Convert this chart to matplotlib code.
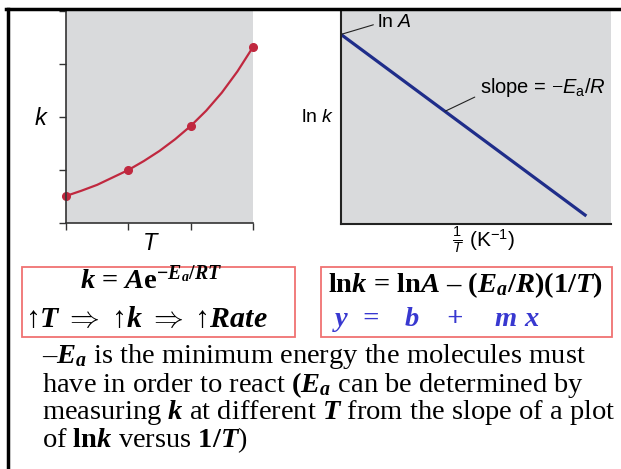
import numpy as np
import matplotlib
matplotlib.use('Agg')
import matplotlib.pyplot as plt
from matplotlib.patches import Rectangle
from matplotlib.lines import Line2D

# values
T_pts = [0, 1, 2, 3]
k_pts = [0.51, 1.0, 1.83, 3.32]
T_curve = [0, 0.25, 0.5, 0.75, 1.0, 1.25, 1.5, 1.75, 2.0, 2.25, 2.5, 2.75, 3.0]
k_curve = [0.51, 0.61, 0.72, 0.86, 1.0, 1.17, 1.36, 1.58, 1.83, 2.12, 2.46, 2.86, 3.32]
invT_line = [0.0, 0.904]
lnk_line = [0.89, 0.042]
x_ticks = [0, 1, 2, 3]
y_ticks = [0, 1, 2, 3, 4]

plt.rcParams['mathtext.fontset'] = 'custom'
plt.rcParams['mathtext.rm'] = 'Liberation Serif'
plt.rcParams['mathtext.it'] = 'Liberation Serif:italic'
plt.rcParams['mathtext.bf'] = 'Liberation Serif:bold'
plt.rcParams['mathtext.bfit'] = 'Liberation Serif:bold:italic'
plt.rcParams['mathtext.sf'] = 'Liberation Sans'
plt.rcParams['mathtext.cal'] = 'Liberation Sans:italic'

W, H = 621, 469


def fx(px):
    return px / W


def fy(py):
    return 1 - py / H


fig = plt.figure(figsize=(6.21, 4.69), dpi=100)
fig.patch.set_facecolor('white')

gray = '#d9dadc'
sans = ['Liberation Sans', 'DejaVu Sans']
serif = ['Liberation Serif', 'DejaVu Serif']

# left plot: k vs T
ax1 = fig.add_axes([fx(66), fy(223), fx(253) - fx(66), fy(11) - fy(223)])
ax1.set_facecolor(gray)
ax1.plot(T_curve, k_curve, color='#c0283f', lw=1.6, clip_on=False)
ax1.plot(T_pts, k_pts, 'o', color='#c0283f', ms=5.5, clip_on=False)
ax1.set_xlim(0, 3)
ax1.set_ylim(0, 4)
ax1.set_xticks(x_ticks)
ax1.set_yticks(y_ticks)
ax1.set_xticklabels([])
ax1.set_yticklabels([])
ax1.tick_params(direction='out', length=5, width=1, color='#333333')
for s in ['top', 'right']:
    ax1.spines[s].set_visible(False)
for s in ['left', 'bottom']:
    ax1.spines[s].set_color('#333333')
    ax1.spines[s].set_linewidth(1.2)
fig.text(fx(41), fy(118), r'$\mathcal{k}$', fontsize=17, ha='center', va='center')
fig.text(fx(151), fy(243), r'$\mathcal{T}$', fontsize=17, ha='center', va='center')

# right plot: ln k vs 1/T
ax2 = fig.add_axes([fx(341), fy(224), fx(611) - fx(341), fy(11) - fy(224)])
ax2.set_facecolor(gray)
ax2.plot(invT_line, lnk_line, color='#1f2d8a', lw=2.3)
ax2.set_xlim(0, 1)
ax2.set_ylim(0, 1)
ax2.set_xticks([])
ax2.set_yticks([])
for s in ['top', 'right']:
    ax2.spines[s].set_visible(False)
for s in ['left', 'bottom']:
    ax2.spines[s].set_color('#222222')
    ax2.spines[s].set_linewidth(1.5)
ax2.annotate(r'ln $\mathcal{A}$', xy=(invT_line[0], lnk_line[0]), xytext=(0.135, 0.945),
             fontsize=14, family=sans, ha='left', va='center', annotation_clip=False,
             arrowprops=dict(arrowstyle='-', color='#222222', lw=0.8, relpos=(0, 0.45),
                             shrinkA=1, shrinkB=0))
ax2.annotate(r'slope = $-\mathcal{E}_{\mathsf{a}}\mathsf{/}\mathcal{R}$', xy=(0.385, 0.529),
             xytext=(0.515, 0.64), fontsize=14.5, family=sans, ha='left', va='center',
             arrowprops=dict(arrowstyle='-', color='#222222', lw=0.8, relpos=(0, 0.2),
                             shrinkA=2, shrinkB=0))
fig.text(fx(318), fy(118), r'ln $\mathcal{k}$', fontsize=14, family=sans, ha='center', va='center')
fig.text(fx(484), fy(240), r'$\frac{\mathsf{1}}{\mathcal{T}}$ (K$^{\mathsf{-1}}$)', fontsize=15,
         family=sans, ha='center', va='center')

# slide frame
fig.add_artist(Line2D([fx(7.5), fx(7.5)], [fy(9), 0], color='black', lw=2.5))
fig.add_artist(Line2D([fx(6), 1], [fy(9), fy(9)], color='black', lw=2.5))

# formula boxes
for x0, x1 in [(22, 295), (321, 612)]:
    fig.add_artist(Rectangle((fx(x0), fy(337)), fx(x1) - fx(x0), fy(267) - fy(337),
                             transform=fig.transFigure, fill=False, edgecolor='#f07272', lw=1.3))

fig.text(fx(151), fy(289),
         r'$\mathbfit{k}$ = $\mathbfit{A}\mathbf{e}^{\mathbf{-}\mathbfit{E}_{\mathbfit{a}}\mathbf{/}\mathbfit{RT}}$',
         fontsize=20.5, family=serif, weight='bold', ha='center', va='baseline')
fig.text(fx(25), fy(327),
         r'↑$\mathbfit{T}$ $\Rightarrow$ ↑$\mathbfit{k}$ $\Rightarrow$ ↑$\mathbfit{Rate}$',
         fontsize=21.5, family=serif, ha='left', va='baseline')
fig.text(fx(328), fy(292),
         r'ln$\mathbfit{k}$ = ln$\mathbfit{A}$ – ($\mathbfit{E}_{\mathbfit{a}}$/$\mathbfit{R}$)(1/$\mathbfit{T}$)',
         fontsize=20.5, family=serif, weight='bold', ha='left', va='baseline')
for x, s in [(335, 'y'), (362, '='), (405, 'b'), (446, '+'), (494, 'm'), (524, 'x')]:
    fig.text(fx(x), fy(326), s, fontsize=20.5, family=serif, weight='bold',
             style='italic', color='#3838d0', ha='left', va='baseline')

# bullet text, one block so the lines keep a fixed pitch
bullet = '\n'.join([
    r'–$\mathbfit{E}_{\mathbfit{a}}$ is the minimum energy the molecules must',
    r'have in order to react $\mathbf{(}\mathbfit{E}_{\mathbfit{a}}$ can be determined by',
    r'measuring $\mathbfit{k}$ at different $\mathbfit{T}$ from the slope of a plot',
    r'of $\mathbf{ln}\mathbfit{k}$ versus $\mathbf{1/}\mathbfit{T}$)',
])
fig.text(fx(42), fy(447), bullet, fontsize=20.5, family=serif, ha='left', va='baseline',
         linespacing=0.92)

plt.savefig('out.png', dpi=100)
